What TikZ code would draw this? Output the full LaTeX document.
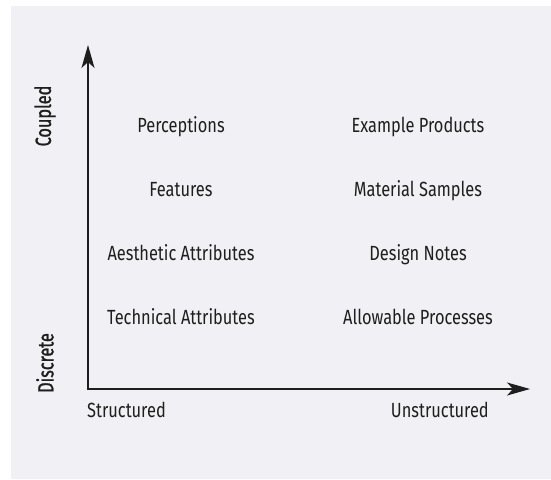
\documentclass[tikz,border=0pt]{standalone}
\usepackage{fontspec}
\setmainfont{Fira Sans}[FakeStretch=0.8]
\newfontfamily\axisfont{Fira Sans}[FakeStretch=0.74,FakeBold=1.2]
\usepackage{tikz}
\usetikzlibrary{arrows.meta}

\definecolor{panel}{RGB}{241,240,245}
\definecolor{ink}{RGB}{30,30,30}
\tikzset{
  item/.style={anchor=base,text=ink,inner sep=0pt,font=\fontsize{20.5}{24}\selectfont},
  axislabel/.style={text=ink,inner sep=0pt,rotate=90,font=\axisfont\fontsize{22}{25}\selectfont},
  axis/.style={line width=1.1pt,draw=ink,{Stealth[length=23pt,width=13pt,inset=6pt]}-{Stealth[length=23pt,width=13pt,inset=6pt]}}
}

\begin{document}
\begin{tikzpicture}[x=1pt,y=-1pt]
\useasboundingbox (0,0) rectangle (551,479);
\fill[panel] (11,6) rectangle (551,479);

\coordinate (O) at (88,389);
\coordinate (ytop) at (88,45);
\coordinate (xend) at (530,389);
\draw[axis] (ytop) -- (O) -- (xend);

\node[axislabel] (coupled) at (45,116) {Coupled};
\node[axislabel] (discrete) at (45,363) {Discrete};
\node[item,anchor=base west] (structured) at (87,417) {Structured};
\node[item,anchor=base east] (unstructured) at (489,417) {Unstructured};

\node[item] (perc) at (181,132) {Perceptions};
\node[item] (feat) at (181,196) {Features};
\node[item] (aest) at (181,260) {Aesthetic Attributes};
\node[item] (tech) at (181,324) {Technical Attributes};

\node[item] (expl) at (418,132) {Example Products};
\node[item] (matl) at (418,196) {Material Samples};
\node[item] (desn) at (418,260) {Design Notes};
\node[item] (allow) at (418,324) {Allowable Processes};
\end{tikzpicture}
\end{document}
